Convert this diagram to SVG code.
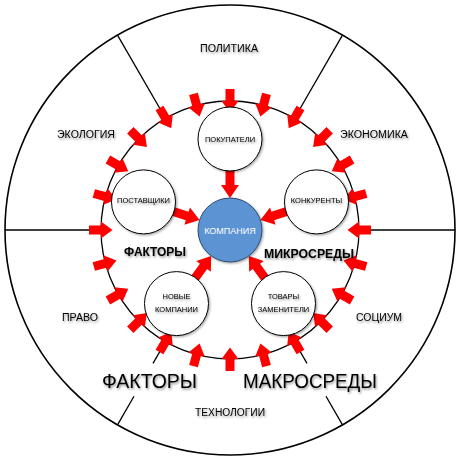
<svg xmlns="http://www.w3.org/2000/svg" width="466" height="466" viewBox="0 0 466 466">
<defs>
<filter id="sh" x="-20%" y="-20%" width="140%" height="140%">
<feDropShadow dx="1.2" dy="1.2" stdDeviation="1" flood-color="#000" flood-opacity="0.35"/>
</filter>
<filter id="tsh" x="-10%" y="-30%" width="120%" height="160%">
<feDropShadow dx="1" dy="1.5" stdDeviation="1" flood-color="#000" flood-opacity="0.45"/>
</filter>
<path id="ra" d="M225.5,89 H234.5 V101 H238.5 L230,112.5 L221.5,101 H225.5 Z"/>
<path id="na" d="M225.5,168 H234.5 V185 H239 L230,198 L221,185 H225.5 Z"/>
</defs>
<style>
.ring{fill:none;stroke:#000;}
.ln{stroke:#000;stroke-width:1.3;fill:none;}
.arr{fill:#ff0000;}
.node{fill:#fff;stroke:#000;stroke-width:1;filter:url(#sh);}
.t{font-family:"Liberation Sans",Arial,sans-serif;fill:#000;text-anchor:middle;filter:url(#tsh);}
.out{font-size:10px;}
.nl{font-size:7.5px;}
.mid{font-size:13px;font-weight:bold;}
.big{font-size:20px;}
</style>
<rect width="466" height="466" fill="#fff"/>
<g id="rings">
<circle class="ring" cx="230" cy="230" r="225" stroke-width="1.6"/>
<circle class="ring" cx="230" cy="230" r="129" stroke-width="1.3"/>
</g>
<g id="connectors">
<line class="ln" x1="342.5" y1="35.1" x2="294.5" y2="118.3"/>
<line class="ln" x1="117.5" y1="35.1" x2="165.5" y2="118.3"/>
<line class="ln" x1="5" y1="230" x2="101" y2="230"/>
<line class="ln" x1="359" y1="230" x2="455" y2="230"/>
<line class="ln" x1="117.5" y1="424.9" x2="134" y2="396.3"/>
<line class="ln" x1="153" y1="363.4" x2="165.5" y2="341.7"/>
<line class="ln" x1="342.5" y1="424.9" x2="326" y2="396.3"/>
<line class="ln" x1="307" y1="363.4" x2="294.5" y2="341.7"/>
<g class="arr">
<use href="#ra" transform="rotate(0 230 230)"/>
<use href="#ra" transform="rotate(15 230 230)"/>
<use href="#ra" transform="rotate(30 230 230)"/>
<use href="#ra" transform="rotate(45 230 230)"/>
<use href="#ra" transform="rotate(60 230 230)"/>
<use href="#ra" transform="rotate(75 230 230)"/>
<use href="#ra" transform="rotate(90 230 230)"/>
<use href="#ra" transform="rotate(105 230 230)"/>
<use href="#ra" transform="rotate(120 230 230)"/>
<use href="#ra" transform="rotate(135 230 230)"/>
<use href="#ra" transform="rotate(150 230 230)"/>
<use href="#ra" transform="rotate(165 230 230)"/>
<use href="#ra" transform="rotate(180 230 230)"/>
<use href="#ra" transform="rotate(195 230 230)"/>
<use href="#ra" transform="rotate(210 230 230)"/>
<use href="#ra" transform="rotate(225 230 230)"/>
<use href="#ra" transform="rotate(240 230 230)"/>
<use href="#ra" transform="rotate(255 230 230)"/>
<use href="#ra" transform="rotate(270 230 230)"/>
<use href="#ra" transform="rotate(285 230 230)"/>
<use href="#ra" transform="rotate(300 230 230)"/>
<use href="#ra" transform="rotate(315 230 230)"/>
<use href="#ra" transform="rotate(330 230 230)"/>
<use href="#ra" transform="rotate(345 230 230)"/>
<use href="#na" transform="rotate(0 230 230)"/>
<use href="#na" transform="rotate(-72 230 230)"/>
<use href="#na" transform="rotate(72 230 230)"/>
<use href="#na" transform="rotate(-144 230 230)"/>
<use href="#na" transform="rotate(144 230 230)"/>
</g>
</g>
<g id="company">
<circle cx="230" cy="230" r="32" fill="#5b93d3" stroke="#2c4a6e" stroke-width="1" filter="url(#sh)"/>
<text x="230" y="234" font-family="Liberation Sans,Arial,sans-serif" font-size="9" fill="#fff" text-anchor="middle">КОМПАНИЯ</text>
</g>
<g id="buyers">
<circle class="node" cx="230" cy="139" r="32"/>
<text class="t nl" x="230" y="142">ПОКУПАТЕЛИ</text>
</g>
<g id="suppliers">
<circle class="node" cx="143.5" cy="201.9" r="32"/>
<text class="t nl" x="143.5" y="203">ПОСТАВЩИКИ</text>
</g>
<g id="competitors">
<circle class="node" cx="316.5" cy="201.9" r="32"/>
<text class="t nl" x="316.5" y="203">КОНКУРЕНТЫ</text>
</g>
<g id="new-companies">
<circle class="node" cx="176.5" cy="303.6" r="32"/>
<text class="t nl" x="176.5" y="299">НОВЫЕ</text>
<text class="t nl" x="176.5" y="312">КОМПАНИИ</text>
</g>
<g id="substitutes">
<circle class="node" cx="283.5" cy="303.6" r="32"/>
<text class="t nl" x="283.5" y="299">ТОВАРЫ</text>
<text class="t nl" x="283.5" y="312">ЗАМЕНИТЕЛИ</text>
</g>
<g id="labels">
<text class="t out" x="229" y="52" textLength="58" lengthAdjust="spacingAndGlyphs">ПОЛИТИКА</text>
<text class="t out" x="86" y="138" textLength="58" lengthAdjust="spacingAndGlyphs">ЭКОЛОГИЯ</text>
<text class="t out" x="374" y="138" textLength="68" lengthAdjust="spacingAndGlyphs">ЭКОНОМИКА</text>
<text class="t out" x="80" y="321" textLength="36" lengthAdjust="spacingAndGlyphs">ПРАВО</text>
<text class="t out" x="379" y="321" textLength="46" lengthAdjust="spacingAndGlyphs">СОЦИУМ</text>
<text class="t out" x="230" y="416" textLength="70" lengthAdjust="spacingAndGlyphs">ТЕХНОЛОГИИ</text>
<text class="t mid" x="155" y="256" textLength="62" lengthAdjust="spacingAndGlyphs">ФАКТОРЫ</text>
<text class="t mid" x="309" y="258" textLength="90" lengthAdjust="spacingAndGlyphs">МИКРОСРЕДЫ</text>
<text class="t big" x="149.5" y="388" textLength="95" lengthAdjust="spacingAndGlyphs">ФАКТОРЫ</text>
<text class="t big" x="310" y="388" textLength="134" lengthAdjust="spacingAndGlyphs">МАКРОСРЕДЫ</text>
</g>
</svg>
